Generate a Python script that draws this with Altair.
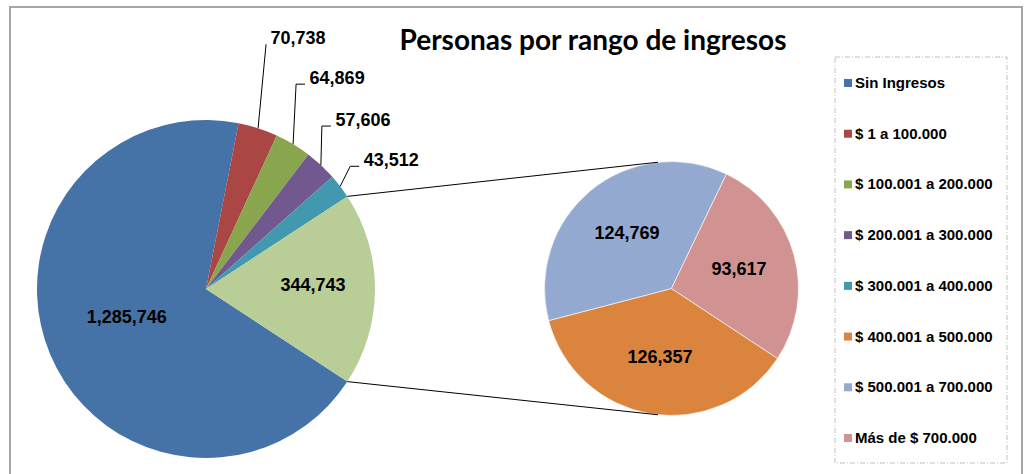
import math
import altair as alt
import pandas as pd

# ---------------- data ----------------
main_cats = ["Sin Ingresos", "$ 1 a 100.000", "$ 100.001 a 200.000",
             "$ 200.001 a 300.000", "$ 300.001 a 400.000"]
main_vals = [1285746, 70738, 64869, 57606, 43512]
sec_cats = ["$ 400.001 a 500.000", "$ 500.001 a 700.000", "Más de  $ 700.000"]
sec_vals = [126357, 124769, 93617]
other_cat = "Otros"
title_text = "Personas por rango de ingresos"

legend_cats = main_cats + sec_cats
palette_domain = legend_cats + [other_cat]
palette_range = ["#4572A7", "#AA4643", "#89A54E", "#71588F", "#4198AF",
                 "#DB843D", "#93A9CF", "#D19392", "#B9CD96"]

# ---------------- layout ----------------
W, H = 1026, 474
CX1, CY1, R1 = 206, 289, 169          # main pie
CX2, CY2, R2 = 671.5, 288.5, 127      # secondary pie
SEC_START_DEG = 123.4
CONN_DEG = (-6.1, 186.1)              # where connectors touch the secondary pie
LEADER_RISE = [84, 60, 39, 20]
LEADER_SHIFT = [8, 3, 1, 10]
LEADER_TAIL = [0, 9, 9, 9]
TEXT_GAP = 4.5
LABEL_FONT = "Liberation Sans"

other_val = sum(sec_vals)
main_all_cats = main_cats + [other_cat]
main_all_vals = main_vals + [other_val]
total1 = sum(main_all_vals)
total2 = sum(sec_vals)
start1 = 90 + 180 * other_val / total1   # split slice centred at 3 o'clock

main_df = pd.DataFrame({"cat": main_all_cats, "value": main_all_vals,
                        "idx": list(range(len(main_all_cats)))})
sec_df = pd.DataFrame({"cat": sec_cats, "value": sec_vals,
                       "idx": list(range(len(sec_cats)))})
dummy = pd.DataFrame({"a": [0]})


def polar(cx, cy, r, deg):
    a = math.radians(deg)
    return cx + r * math.sin(a), cy - r * math.cos(a)


def theta_enc(total, start_deg):
    s = math.radians(start_deg)
    return alt.Theta("value:Q", stack=True,
                     scale=alt.Scale(domain=[0, total], range=[s, s + 2 * math.pi]))


color = alt.Color("cat:N", scale=alt.Scale(domain=palette_domain, range=palette_range),
                  legend=None)
txt_style = dict(fontSize=18, fontWeight="bold", font=LABEL_FONT, color="black")

# ---------------- main pie ----------------
main_base = alt.Chart(main_df).encode(theta=theta_enc(total1, start1),
                                      order=alt.Order("idx:Q"),
                                      x=alt.value(CX1), y=alt.value(CY1))
main_arcs = main_base.mark_arc(outerRadius=R1).encode(color=color)
lab_a = main_base.transform_calculate(
    lab=f"datum.cat == '{main_cats[0]}' ? format(datum.value, ',') : ''"
).mark_text(radius=86, dy=-4, **txt_style).encode(text="lab:N")
lab_b = main_base.transform_calculate(
    lab=f"datum.cat == '{other_cat}' ? format(datum.value, ',') : ''"
).mark_text(radius=107, dy=-3, **txt_style).encode(text="lab:N")
main_pie = alt.layer(main_arcs, lab_a, lab_b)

# ---------------- secondary pie ----------------
sec_base = alt.Chart(sec_df).encode(theta=theta_enc(total2, SEC_START_DEG),
                                    order=alt.Order("idx:Q"),
                                    x=alt.value(CX2), y=alt.value(CY2))
sec_arcs = sec_base.mark_arc(outerRadius=R2, stroke="white", strokeWidth=0.6).encode(color=color)
sec_lab = sec_base.transform_calculate(lab="format(datum.value, ',')").mark_text(
    radius=70, **txt_style).encode(text="lab:N")
sec_pie = alt.layer(sec_arcs, sec_lab)

# ---------------- leader lines, outer labels, connectors ----------------
segs = []
labs = []
cum = start1
mids = []
for v in main_all_vals:
    d = 360 * v / total1
    mids.append(cum + d / 2)
    cum += d
for k in range(1, len(main_cats)):
    ex, ey = polar(CX1, CY1, R1, mids[k])
    ax, ay = ex + LEADER_SHIFT[k - 1], ey - LEADER_RISE[k - 1]
    segs.append({"x": ex, "y": ey, "x2": ax, "y2": ay})
    tx = ax + LEADER_TAIL[k - 1]
    if LEADER_TAIL[k - 1] > 0:
        segs.append({"x": ax, "y": ay, "x2": tx, "y2": ay})
    labs.append({"x": tx + TEXT_GAP, "y": ay - 0.5, "text": f"{main_vals[k]:,}"})

otros_start = start1 + 360 * sum(main_vals) / total1
otros_end = start1 + 360
for a_main, a_sec in zip((otros_start, otros_end), CONN_DEG):
    x1, y1 = polar(CX1, CY1, R1, a_main)
    x2, y2 = polar(CX2, CY2, R2, a_sec)
    segs.append({"x": x1, "y": y1, "x2": x2, "y2": y2})

seg_df = pd.DataFrame(segs)
lab_df = pd.DataFrame(labs)

rules = alt.Chart(seg_df).mark_rule(color="black", strokeWidth=1).encode(
    x=alt.X("x:Q", scale=None), y=alt.Y("y:Q", scale=None), x2="x2:Q", y2="y2:Q")
outer_labels = alt.Chart(lab_df).mark_text(align="left", baseline="alphabetic",
                                           **txt_style).encode(
    x=alt.X("x:Q", scale=None), y=alt.Y("y:Q", scale=None), text="text:N")

# ---------------- legend ----------------
leg_df = pd.DataFrame({"cat": legend_cats})
leg_y = alt.Y("cat:N", sort=legend_cats, axis=None,
              scale=alt.Scale(type="point", domain=legend_cats, range=[83, 438], padding=0))
leg_box = alt.Chart(dummy).mark_rect(fillOpacity=0, stroke="#BFBFBF", strokeWidth=1,
                                     strokeDash=[5, 2, 1, 2]).encode(
    x=alt.value(835), x2=alt.value(1007), y=alt.value(57), y2=alt.value(463))
leg_sq = alt.Chart(leg_df).mark_square(size=64, opacity=1).encode(
    x=alt.value(848), y=leg_y, color=color)
leg_txt = alt.Chart(leg_df).mark_text(align="left", baseline="middle", fontSize=15,
                                      fontWeight="bold", font=LABEL_FONT,
                                      color="black").encode(
    x=alt.value(855), y=leg_y, text="cat:N")

# ---------------- frame and title ----------------
frame = alt.Chart(dummy).mark_rect(fillOpacity=0, stroke="#A6A6A6", strokeWidth=2).encode(
    x=alt.value(10), x2=alt.value(1022), y=alt.value(7), y2=alt.value(520))
title = alt.Chart(dummy).mark_text(text=title_text, font="Lato", fontSize=28,
                                   fontWeight="bold", align="center",
                                   baseline="alphabetic", color="black").encode(
    x=alt.value(593), y=alt.value(50))

chart = alt.layer(
    frame, main_pie, sec_pie, rules, outer_labels, leg_box, leg_sq, leg_txt, title
).resolve_scale(
    theta="independent", x="independent", y="independent"
).properties(
    width=W, height=H, padding=0, autosize=alt.AutoSizeParams(type="none"),
    background="white"
).configure_view(strokeWidth=0)

chart.save("out.html", embed_options={"renderer": "svg", "actions": False})
